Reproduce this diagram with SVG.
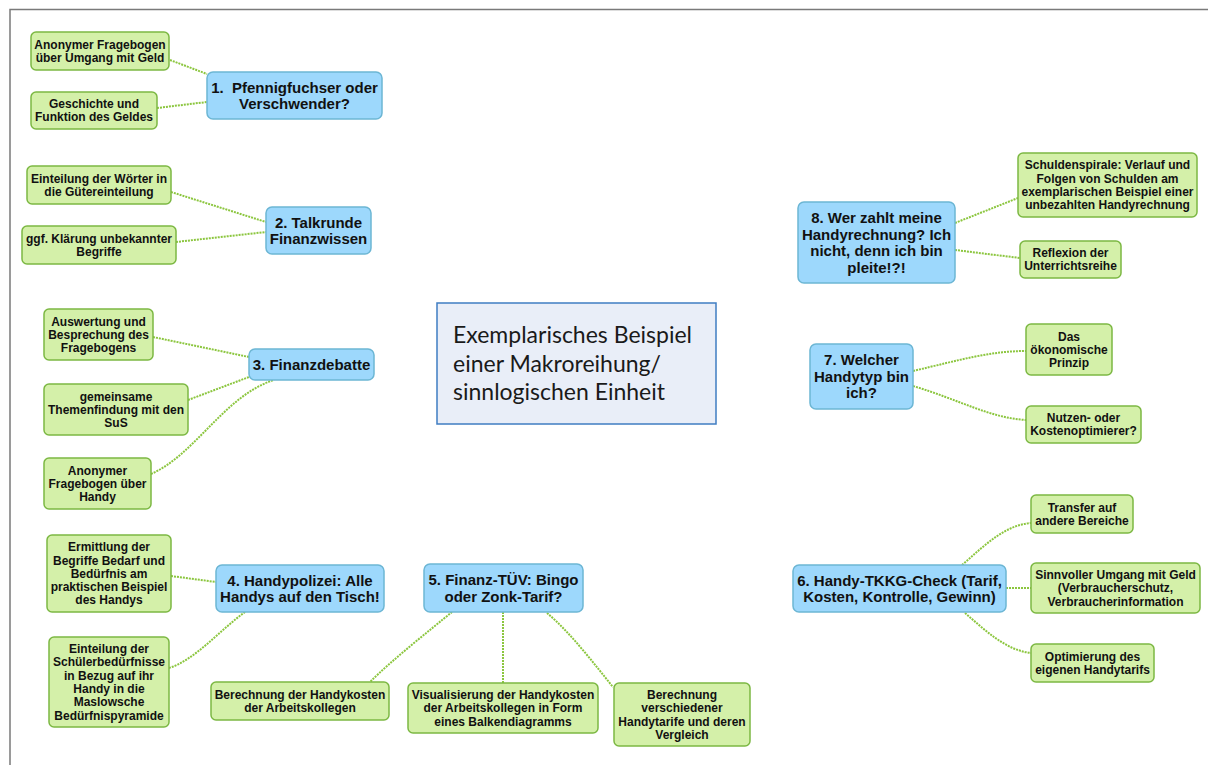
<svg xmlns="http://www.w3.org/2000/svg" width="1208" height="765" viewBox="0 0 1208 765">
<style>
.g{fill:#d4f0a9;stroke:#7cb843;stroke-width:1.5}
.b{fill:#9dd8fc;stroke:#6cb6d4;stroke-width:1.5}
.c{fill:#e9eef8;stroke:#3f7dc2;stroke-width:1.5}
.tg{font-family:"Liberation Sans",Arial,sans-serif;font-weight:bold;font-size:12px;fill:#111;text-anchor:middle}
.tb{font-family:"Liberation Sans",Arial,sans-serif;font-weight:bold;font-size:15px;fill:#111;text-anchor:middle}
.tc{font-family:Lato,"Open Sans",sans-serif;font-size:23px;fill:#1a1a1a}
.conn path{fill:none;stroke:#8cc63f;stroke-width:2;stroke-dasharray:2 1}
</style>
<rect width="1208" height="765" fill="#fff"/>
<path d="M10,765 V9.5 H1208" fill="none" stroke="#7a7a7a" stroke-width="1.5"/>
<g class="conn" id="connectors">
<path d="M170,60 L207,74"/>
<path d="M157,108 L207,102"/>
<path d="M171,192 L266,222"/>
<path d="M176,242 L266,232"/>
<path d="M153,337 L249,357"/>
<path d="M188,400 L249,377"/>
<path d="M151,474 C195,455 225,395 274,380"/>
<path d="M171,576 L216,582"/>
<path d="M169,668 C195,660 220,630 245,612"/>
<path d="M452,612 C430,630 392,660 370,682"/>
<path d="M503,612 L503,683"/>
<path d="M547,613 C570,632 595,665 613,687"/>
<path d="M962,565 C985,545 1005,525 1031,523"/>
<path d="M1006,588 L1031,588"/>
<path d="M965,613 C985,630 1005,650 1031,653"/>
<path d="M913,371 C960,360 990,351 1026,351"/>
<path d="M913,386 C960,400 990,418 1026,420"/>
<path d="M955,223 L1018,198"/>
<path d="M955,250 L1020,258"/>
</g>
<g id="center">
<rect class="c" x="437" y="303" width="279" height="121"/>
<text class="tc"><tspan x="453" y="343">Exemplarisches Beispiel</tspan><tspan x="453" y="371.5">einer Makroreihung/</tspan><tspan x="453" y="400">sinnlogischen Einheit</tspan></text>
</g>
<g id="n1">
<rect class="b" x="207" y="72" width="175" height="47" rx="6"/>
<text class="tb" xml:space="preserve"><tspan x="294.5" y="92.6">1.  Pfennigfuchser oder</tspan><tspan x="294.5" y="109.1">Verschwender?</tspan></text>
</g>
<g id="n1a">
<rect class="g" x="31" y="32" width="138" height="38" rx="5"/>
<text class="tg"><tspan x="100" y="48.6">Anonymer Fragebogen</tspan><tspan x="100" y="62">über Umgang mit Geld</tspan></text>
</g>
<g id="n1b">
<rect class="g" x="31" y="92" width="126" height="37" rx="5"/>
<text class="tg"><tspan x="94" y="108.1">Geschichte und</tspan><tspan x="94" y="121.4">Funktion des Geldes</tspan></text>
</g>
<g id="n2">
<rect class="b" x="266" y="207" width="105" height="47" rx="6"/>
<text class="tb"><tspan x="318.5" y="227.6">2. Talkrunde</tspan><tspan x="318.5" y="244.1">Finanzwissen</tspan></text>
</g>
<g id="n2a">
<rect class="g" x="27" y="166" width="144" height="38" rx="5"/>
<text class="tg"><tspan x="99" y="182.6">Einteilung der Wörter in</tspan><tspan x="99" y="195.9">die Gütereinteilung</tspan></text>
</g>
<g id="n2b">
<rect class="g" x="22" y="226" width="154" height="38" rx="5"/>
<text class="tg"><tspan x="99" y="242.6">ggf. Klärung unbekannter</tspan><tspan x="99" y="255.9">Begriffe</tspan></text>
</g>
<g id="n3">
<rect class="b" x="249" y="349" width="125" height="31" rx="6"/>
<text class="tb" x="311.5" y="369.9">3. Finanzdebatte</text>
</g>
<g id="n3a">
<rect class="g" x="44" y="309" width="109" height="51" rx="5"/>
<text class="tg"><tspan x="98.5" y="325.5">Auswertung und</tspan><tspan x="98.5" y="338.8">Besprechung des</tspan><tspan x="98.5" y="352.1">Fragebogens</tspan></text>
</g>
<g id="n3b">
<rect class="g" x="44" y="384" width="144" height="51" rx="5"/>
<text class="tg"><tspan x="116" y="400.5">gemeinsame</tspan><tspan x="116" y="413.8">Themenfindung mit den</tspan><tspan x="116" y="427.1">SuS</tspan></text>
</g>
<g id="n3c">
<rect class="g" x="44" y="458" width="107" height="51" rx="5"/>
<text class="tg"><tspan x="97.5" y="474.5">Anonymer</tspan><tspan x="97.5" y="487.8">Fragebogen über</tspan><tspan x="97.5" y="501.1">Handy</tspan></text>
</g>
<g id="n4">
<rect class="b" x="216" y="565" width="168" height="47" rx="6"/>
<text class="tb"><tspan x="300" y="585.6">4. Handypolizei: Alle</tspan><tspan x="300" y="602.1">Handys auf den Tisch!</tspan></text>
</g>
<g id="n4a">
<rect class="g" x="47" y="535" width="124" height="77" rx="5"/>
<text class="tg"><tspan x="109" y="551.2">Ermittlung der</tspan><tspan x="109" y="564.5">Begriffe Bedarf und</tspan><tspan x="109" y="577.8">Bedürfnis am</tspan><tspan x="109" y="591.1">praktischen Beispiel</tspan><tspan x="109" y="604.4">des Handys</tspan></text>
</g>
<g id="n4b">
<rect class="g" x="49" y="637" width="120" height="90" rx="5"/>
<text class="tg"><tspan x="109" y="653.1">Einteilung der</tspan><tspan x="109" y="666.4">Schülerbedürfnisse</tspan><tspan x="109" y="679.7">in Bezug auf ihr</tspan><tspan x="109" y="693">Handy in die</tspan><tspan x="109" y="706.3">Maslowsche</tspan><tspan x="109" y="719.6">Bedürfnispyramide</tspan></text>
</g>
<g id="n5">
<rect class="b" x="424" y="564" width="159" height="48" rx="6"/>
<text class="tb"><tspan x="503.5" y="585.2">5. Finanz-TÜV: Bingo</tspan><tspan x="503.5" y="601.7">oder Zonk-Tarif?</tspan></text>
</g>
<g id="n5a">
<rect class="g" x="211" y="682" width="178" height="38" rx="5"/>
<text class="tg"><tspan x="300" y="698.6">Berechnung der Handykosten</tspan><tspan x="300" y="711.9">der Arbeitskollegen</tspan></text>
</g>
<g id="n5b">
<rect class="g" x="408" y="683" width="190" height="50" rx="5"/>
<text class="tg"><tspan x="503" y="699">Visualisierung der Handykosten</tspan><tspan x="503" y="712.3">der Arbeitskollegen in Form</tspan><tspan x="503" y="725.6">eines Balkendiagramms</tspan></text>
</g>
<g id="n5c">
<rect class="g" x="614" y="683" width="136" height="63" rx="5"/>
<text class="tg"><tspan x="682" y="698.9">Berechnung</tspan><tspan x="682" y="712.2">verschiedener</tspan><tspan x="682" y="725.5">Handytarife und deren</tspan><tspan x="682" y="738.8">Vergleich</tspan></text>
</g>
<g id="n6">
<rect class="b" x="793" y="565" width="213" height="47" rx="6"/>
<text class="tb"><tspan x="899.5" y="585.6">6. Handy-TKKG-Check (Tarif,</tspan><tspan x="899.5" y="602.1">Kosten, Kontrolle, Gewinn)</tspan></text>
</g>
<g id="n6a">
<rect class="g" x="1031" y="495" width="102" height="38" rx="5"/>
<text class="tg"><tspan x="1082" y="511.6">Transfer auf</tspan><tspan x="1082" y="524.9">andere Bereiche</tspan></text>
</g>
<g id="n6b">
<rect class="g" x="1031" y="563" width="169" height="50" rx="5"/>
<text class="tg"><tspan x="1115.5" y="579">Sinnvoller Umgang mit Geld</tspan><tspan x="1115.5" y="592.3">(Verbraucherschutz,</tspan><tspan x="1115.5" y="605.6">Verbraucherinformation</tspan></text>
</g>
<g id="n6c">
<rect class="g" x="1031" y="644" width="123" height="38" rx="5"/>
<text class="tg"><tspan x="1092.5" y="660.6">Optimierung des</tspan><tspan x="1092.5" y="673.9">eigenen Handytarifs</tspan></text>
</g>
<g id="n7">
<rect class="b" x="810" y="344" width="103" height="65" rx="6"/>
<text class="tb"><tspan x="861.5" y="365.4">7. Welcher</tspan><tspan x="861.5" y="381.9">Handytyp bin</tspan><tspan x="861.5" y="398.4">ich?</tspan></text>
</g>
<g id="n7a">
<rect class="g" x="1026" y="324" width="86" height="51" rx="5"/>
<text class="tg"><tspan x="1069" y="340.5">Das</tspan><tspan x="1069" y="353.8">ökonomische</tspan><tspan x="1069" y="367.1">Prinzip</tspan></text>
</g>
<g id="n7b">
<rect class="g" x="1026" y="406" width="115" height="37" rx="5"/>
<text class="tg"><tspan x="1083.5" y="422.1">Nutzen- oder</tspan><tspan x="1083.5" y="435.4">Kostenoptimierer?</tspan></text>
</g>
<g id="n8">
<rect class="b" x="798" y="202" width="157" height="81" rx="6"/>
<text class="tb"><tspan x="876.5" y="223.2">8. Wer zahlt meine</tspan><tspan x="876.5" y="239.7">Handyrechnung? Ich</tspan><tspan x="876.5" y="256.2">nicht, denn ich bin</tspan><tspan x="876.5" y="272.7">pleite!?!</tspan></text>
</g>
<g id="n8a">
<rect class="g" x="1018" y="153" width="179" height="64" rx="5"/>
<text class="tg"><tspan x="1107.5" y="169.4">Schuldenspirale: Verlauf und</tspan><tspan x="1107.5" y="182.7">Folgen von Schulden am</tspan><tspan x="1107.5" y="196">exemplarischen Beispiel einer</tspan><tspan x="1107.5" y="209.3">unbezahlten Handyrechnung</tspan></text>
</g>
<g id="n8b">
<rect class="g" x="1020" y="241" width="101" height="37" rx="5"/>
<text class="tg"><tspan x="1070.5" y="257.1">Reflexion der</tspan><tspan x="1070.5" y="270.4">Unterrichtsreihe</tspan></text>
</g>
</svg>
